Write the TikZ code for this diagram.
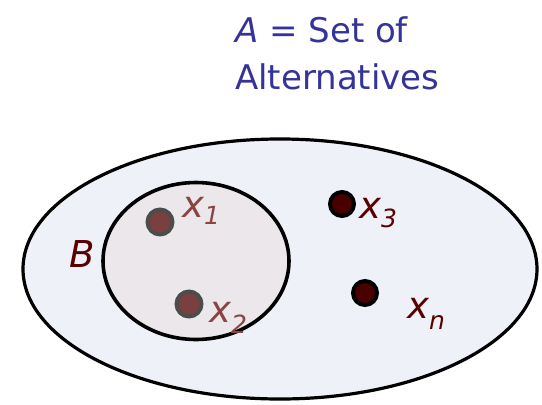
\documentclass[tikz,border=0pt]{standalone}
\usepackage{fontspec}
\setmainfont{DejaVu Sans}
\usetikzlibrary{shapes.geometric}
\definecolor{titleblue}{HTML}{333399}
\definecolor{outerfill}{HTML}{EEF2F8}
\definecolor{innerfill}{HTML}{EBE7EB}
\definecolor{lightmaroon}{HTML}{8A4444}
\definecolor{darkmaroon}{HTML}{5A0000}
\definecolor{dotA}{HTML}{7A4040}
\definecolor{dotB}{HTML}{4A0000}
\newcommand{\subx}[2][-9pt]{x\raisebox{#1}{\fontsize{25}{25}\selectfont #2}}
\tikzset{
  lbl/.style={inner sep=0pt, anchor=base west, font=\fontsize{37}{37}\selectfont\itshape},
  softdot/.style={circle, draw=black!70, line width=4pt, fill=dotA, minimum size=25pt, inner sep=0pt},
  harddot/.style={circle, draw=black, line width=4pt, fill=dotB, minimum size=24pt, inner sep=0pt},
  titletext/.style={inner sep=0pt, anchor=base west, text=titleblue, font=\fontsize{34}{34}\selectfont}
}
\begin{document}
\begin{tikzpicture}[x=1pt,y=1pt]
\useasboundingbox (0,0) rectangle (542,-405);
\node[titletext] (t1) at (235,-42) {\textit{A} = Set of};
\node[titletext] (t2) at (235,-89) {Alternatives};
\node[ellipse, draw, line width=3.2pt, fill=outerfill, minimum width=514pt, minimum height=260pt, inner sep=0pt] (outer) at (280,-269) {};
\node[ellipse, draw, line width=3.6pt, fill=innerfill, minimum width=186pt, minimum height=157pt, inner sep=0pt] (inner) at (196,-261) {};
\node[softdot] (d1) at (160,-222) {};
\node[softdot] (d2) at (189,-304) {};
\node[harddot] (d3) at (342,-204) {};
\node[harddot] (dn) at (365,-293) {};
\node[lbl, text=lightmaroon] (l1) at (182,-217) {\subx[-7pt]{1}};
\node[lbl, text=lightmaroon] (l2) at (209,-322) {\subx[-11pt]{2}};
\node[lbl, text=darkmaroon] (l3) at (359,-218) {\subx[-9pt]{3}};
\node[lbl, text=darkmaroon] (ln) at (407,-318) {\subx[-11pt]{n}};
\node[lbl, text=darkmaroon] (lb) at (69,-267) {B};
\end{tikzpicture}
\end{document}
